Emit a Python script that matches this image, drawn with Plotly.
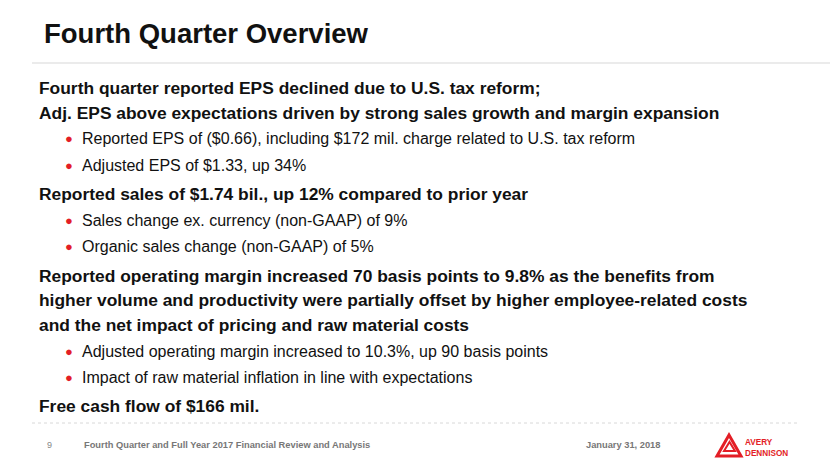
import plotly.graph_objects as go

title = "Fourth Quarter Overview"

lines = [
    "Fourth quarter reported EPS declined due to U.S. tax reform;",
    "Adj. EPS above expectations driven by strong sales growth and margin expansion",
    "Reported EPS of ($0.66), including $172 mil. charge related to U.S. tax reform",
    "Adjusted EPS of $1.33, up 34%",
    "Reported sales of $1.74 bil., up 12% compared to prior year",
    "Sales change ex. currency (non-GAAP) of 9%",
    "Organic sales change (non-GAAP) of 5%",
    "Reported operating margin increased 70 basis points to 9.8% as the benefits from",
    "higher volume and productivity were partially offset by higher employee-related costs",
    "and the net impact of pricing and raw material costs",
    "Adjusted operating margin increased to 10.3%, up 90 basis points",
    "Impact of raw material inflation in line with expectations",
    "Free cash flow of $166 mil.",
]
levels = [0, 0, 1, 1, 0, 1, 1, 0, 0, 0, 1, 1, 0]
# True where a bold line just continues the paragraph above it
cont = [False, True, False, False, False, False, False, False, True, True, False, False, False]

page_no = "9"
footer = "Fourth Quarter and Full Year 2017 Financial Review and Analysis"
date = "January 31, 2018"

W, H = 830, 467
RED = "#e31e26"
FONT = "Liberation Sans, Arial, sans-serif"

fig = go.Figure()
ann = []
shapes = []

ann.append(dict(x=42, y=33, text="<b>%s</b>" % title, showarrow=False,
                xanchor="left", yanchor="middle",
                font=dict(size=27.5, color="#111111", family=FONT)))
shapes.append(dict(type="line", x0=32, x1=W, y0=63, y1=63,
                   line=dict(color="#e4e4e4", width=1.5)))

y = 88
prev = None
for i, (txt, lv) in enumerate(zip(lines, levels)):
    if i > 0:
        if cont[i]:
            y += 24.5
        elif prev == 1 and lv == 0:
            y += 29
        else:
            y += 26.3
    if lv == 0:
        ann.append(dict(x=36.5, y=y, text="<b>%s</b>" % txt, showarrow=False,
                        xanchor="left", yanchor="middle",
                        font=dict(size=17.4, color="#111111", family=FONT)))
    else:
        ann.append(dict(x=62.5, y=y, text="●", showarrow=False,
                        xanchor="left", yanchor="middle",
                        font=dict(size=13, color=RED, family=FONT)))
        ann.append(dict(x=80, y=y, text=txt, showarrow=False,
                        xanchor="left", yanchor="middle",
                        font=dict(size=16, color="#111111", family=FONT)))
    prev = lv

shapes.append(dict(type="line", x0=32, x1=800, y0=423, y1=423,
                   line=dict(color="#d8d8d8", width=1, dash="dot")))

ann.append(dict(x=45, y=445, text=page_no, showarrow=False, xanchor="left",
                yanchor="middle", font=dict(size=9, color="#888888", family=FONT)))
ann.append(dict(x=82, y=445, text="<b>%s</b>" % footer, showarrow=False,
                xanchor="left", yanchor="middle",
                font=dict(size=9.3, color="#777777", family=FONT)))
ann.append(dict(x=584, y=445, text="<b>%s</b>" % date, showarrow=False,
                xanchor="left", yanchor="middle",
                font=dict(size=9.3, color="#777777", family=FONT)))

# logo mark
shapes.append(dict(type="path", path="M 717 456 L 729 435 L 741 456 Z",
                   line=dict(color=RED, width=3), fillcolor="rgba(0,0,0,0)"))
shapes.append(dict(type="path", path="M 724 451 L 729.5 442 L 735 451 Z",
                   line=dict(color=RED, width=2), fillcolor="rgba(0,0,0,0)"))
ann.append(dict(x=743, y=448, text="<b>AVERY<br>DENNISON</b>", showarrow=False,
                xanchor="left", yanchor="middle", align="left",
                font=dict(size=8.2, color=RED, family=FONT)))

fig.update_layout(
    width=W, height=H, margin=dict(l=0, r=0, t=0, b=0),
    paper_bgcolor="white", plot_bgcolor="white",
    xaxis=dict(range=[0, W], visible=False, fixedrange=True),
    yaxis=dict(range=[H, 0], visible=False, fixedrange=True),
    annotations=ann, shapes=shapes, showlegend=False,
)

fig.write_html("out.html", config={"displayModeBar": False},
               post_script="document.body.style.margin='0px';")
